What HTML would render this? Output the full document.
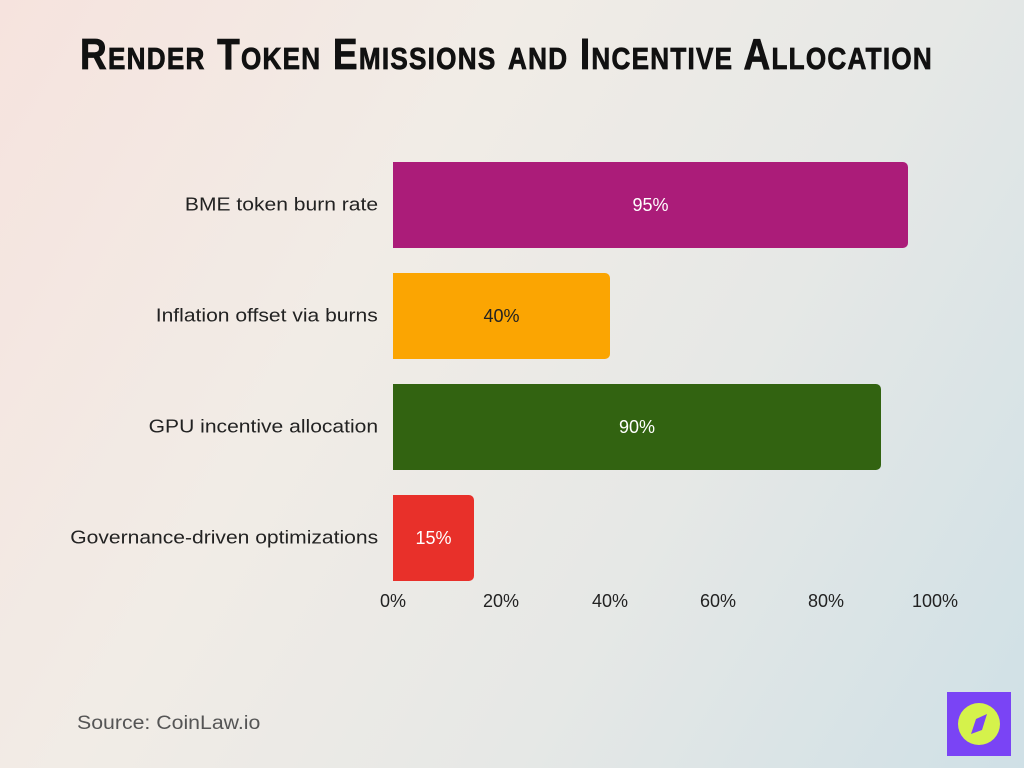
<!DOCTYPE html>
<html><head><meta charset="utf-8"><style>
body{margin:0;width:1024px;height:768px;overflow:hidden;font-family:"Liberation Sans",sans-serif;
background:linear-gradient(120deg,#f6e3de 0%,#f1ece6 35%,#e6e8e6 65%,#cfe0e6 100%);position:relative}
.t{position:absolute;left:80px;top:30px;width:853px;white-space:nowrap;font-family:"Liberation Sans Narrow","Liberation Sans",sans-serif;font-weight:bold;font-size:44px;font-variant:small-caps;letter-spacing:1.5px;transform-origin:left top;color:#111;-webkit-text-stroke:0.8px #111}
.bar{position:absolute;left:393px;height:86px;border-radius:0 5px 5px 0;color:#fff;font-size:18px;display:flex;align-items:center;justify-content:center}
.lab{position:absolute;right:646px;font-size:18px;color:#222;white-space:nowrap;transform:translateY(-50%) scaleX(1.17);transform-origin:right center}
.tk{position:absolute;top:591px;font-size:18px;color:#222;transform:translateX(-50%)}
</style></head><body>
<div class="t" id="t">Render Token Emissions and Incentive Allocation</div>
<div class="lab" style="top:205px">BME token burn rate</div>
<div class="lab" style="top:316px">Inflation offset via burns</div>
<div class="lab" style="top:427px">GPU incentive allocation</div>
<div class="lab" style="top:538px">Governance-driven optimizations</div>
<div class="bar" style="top:162px;width:515px;background:#ab1c79">95%</div>
<div class="bar" style="top:273px;width:217px;background:#fba502;color:#222">40%</div>
<div class="bar" style="top:384px;width:488px;background:#326311">90%</div>
<div class="bar" style="top:495px;width:81px;background:#e8302a">15%</div>
<div class="tk" style="left:393px">0%</div>
<div class="tk" style="left:501px">20%</div>
<div class="tk" style="left:610px">40%</div>
<div class="tk" style="left:718px">60%</div>
<div class="tk" style="left:826px">80%</div>
<div class="tk" style="left:935px">100%</div>
<div style="position:absolute;left:77px;top:713px;font-size:19px;color:#555;transform:scaleX(1.12);transform-origin:left top">Source: CoinLaw.io</div>
<div style="position:absolute;left:947px;top:692px;width:64px;height:64px;background:#7a44f5">
<svg width="64" height="64"><circle cx="32" cy="32" r="21" fill="#d5f24b"/><polygon points="40,22 35,38 24,42 29,27" fill="#7a44f5"/></svg></div>
<script>var t=document.getElementById('t');t.style.width='auto';var s=853/t.getBoundingClientRect().width;t.style.transform='scaleX('+s+')';</script>
</body></html>
